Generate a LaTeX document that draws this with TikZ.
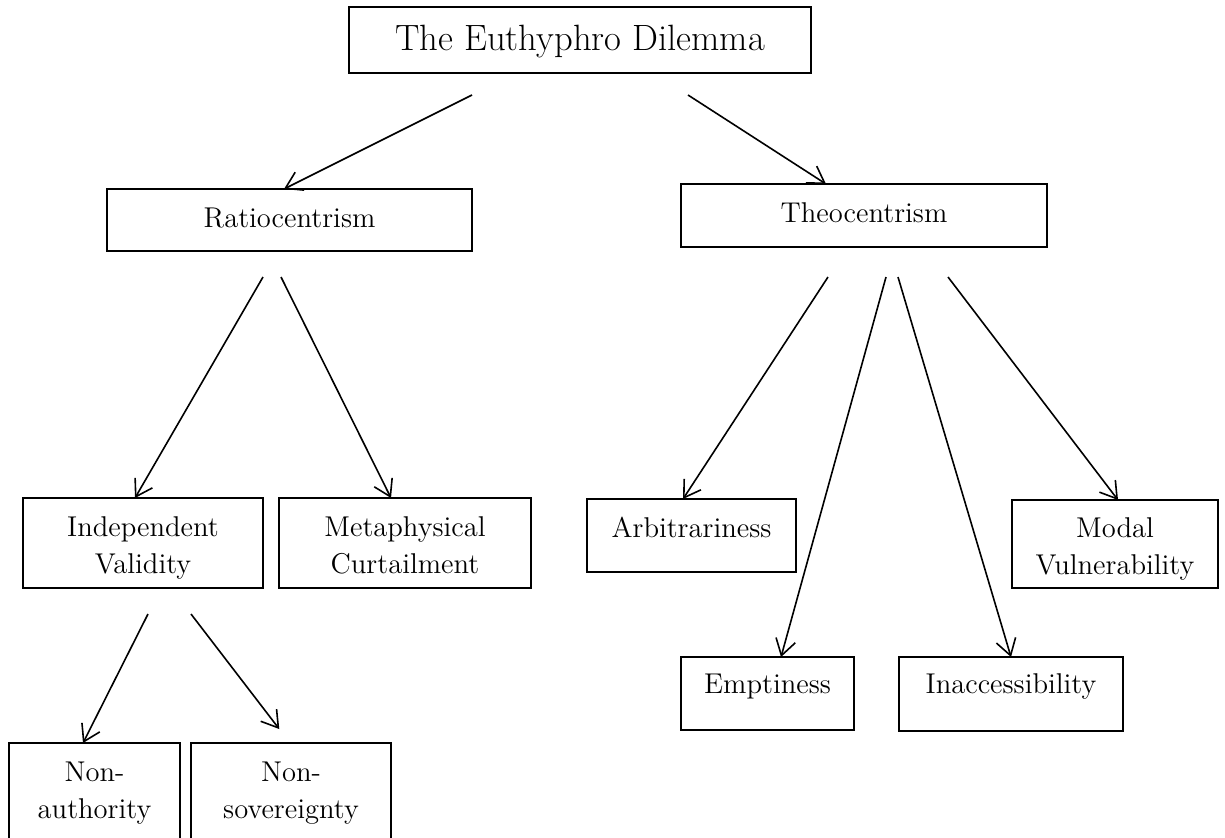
\documentclass[tikz,border=0pt]{standalone}
\usetikzlibrary{arrows.meta,calc}
\tikzset{
  box/.style={draw, line width=1pt, rectangle, inner sep=0pt, outer sep=0pt, anchor=north west},
  lbl/.style={inner sep=0pt, font=\fontsize{14.3pt}{18.5pt}\selectfont, anchor=base},
  ttl/.style={inner sep=0pt, font=\fontsize{18.3pt}{22pt}\selectfont, anchor=base},
  arr/.style={-{Straight Barb[length=8pt,width=10pt]}, line width=0.8pt},
}
\newcommand\TwoL[2]{\begin{tabular}[t]{@{}c@{}}#1\\#2\end{tabular}}
\begin{document}
\begin{tikzpicture}[x=0.5pt,y=-0.5pt]
\useasboundingbox (0,0) rectangle (1225,837);
\clip (0,0) rectangle (1225,837);
% boxes
\node[box, minimum width=231pt, minimum height=33pt] (title) at (349,7) {};
\node[box, minimum width=182.5pt, minimum height=31pt] (ratio) at (107,189) {};
\node[box, minimum width=183pt, minimum height=31.5pt] (theo) at (681,184) {};
\node[box, minimum width=120pt, minimum height=45pt] (indval) at (23,498) {};
\node[box, minimum width=126pt, minimum height=45pt] (meta) at (279,498) {};
\node[box, minimum width=104.5pt, minimum height=36.5pt] (arb) at (587,499) {};
\node[box, minimum width=103pt, minimum height=44pt] (modal) at (1012,500) {};
\node[box, minimum width=86.5pt, minimum height=36.5pt] (empt) at (681,657) {};
\node[box, minimum width=112pt, minimum height=37pt] (inacc) at (899,657) {};
\node[box, minimum width=85.5pt, minimum height=60pt] (nonauth) at (9,743) {};
\node[box, minimum width=100pt, minimum height=60pt] (nonsov) at (191,743) {};
% texts
\node[ttl] (titleT) at (580,50) {The Euthyphro Dilemma};
\node[lbl] (ratioT) at (289.5,227) {Ratiocentrism};
\node[lbl] (theoT) at (864,222) {Theocentrism};
\node[lbl] (indvalT) at (143,536) {\TwoL{Independent}{Validity}};
\node[lbl] (metaT) at (405,536) {\TwoL{Metaphysical}{Curtailment}};
\node[lbl] (arbT) at (691.5,537) {Arbitrariness};
\node[lbl] (modalT) at (1115,537) {\TwoL{Modal}{Vulnerability}};
\node[lbl] (emptT) at (767.5,693) {Emptiness};
\node[lbl] (inaccT) at (1011,693) {Inaccessibility};
\node[lbl] (nonauthT) at (94.5,781) {\TwoL{Non-}{authority}};
\node[lbl] (nonsovT) at (291,781) {\TwoL{Non-}{sovereignty}};
% arrow starts
\coordinate (s1) at (472,95);
\coordinate (s2) at (688,95);
\coordinate (s3) at (263,277);
\coordinate (s4) at (281,277);
\coordinate (s5) at (828,277);
\coordinate (s6) at (886,277);
\coordinate (s7) at (898,277);
\coordinate (s8) at (948,277);
\coordinate (s9) at (148,614);
\coordinate (s10) at (191,614);
% arrows
\draw[arr] (s1) -- ([xshift=88.5pt]ratio.north west);
\draw[arr] (s2) -- ([xshift=72.5pt]theo.north west);
\draw[arr] (s3) -- ([xshift=56pt]indval.north west);
\draw[arr] (s4) -- ([xshift=56pt]meta.north west);
\draw[arr] (s5) -- ([xshift=48pt]arb.north west);
\draw[arr] (s6) -- ([xshift=50pt]empt.north west);
\draw[arr] (s7) -- ([xshift=56pt]inacc.north west);
\draw[arr] (s8) -- ([xshift=53pt]modal.north west);
\draw[arr] (s9) -- ([xshift=37pt]nonauth.north west);
\draw[arr, shorten >=8.8pt] (s10) -- ([xshift=49.5pt]nonsov.north west);
\end{tikzpicture}
\end{document}
